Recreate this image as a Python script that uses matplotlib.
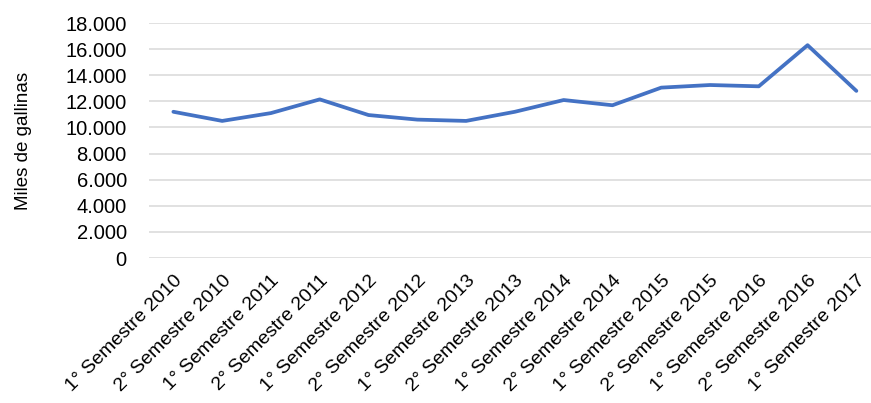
import matplotlib
matplotlib.use("Agg")
import matplotlib.pyplot as plt
from matplotlib.ticker import FuncFormatter, MultipleLocator

plt.rcParams["font.family"] = ["Liberation Sans", "DejaVu Sans"]

periodos = ["1° Semestre 2010", "2° Semestre 2010", "1° Semestre 2011", "2° Semestre 2011",
            "1° Semestre 2012", "2° Semestre 2012", "1° Semestre 2013", "2° Semestre 2013",
            "1° Semestre 2014", "2° Semestre 2014", "1° Semestre 2015", "2° Semestre 2015",
            "1° Semestre 2016", "2° Semestre 2016", "1° Semestre 2017"]
gallinas = [11200, 10500, 11100, 12150, 10950, 10600, 10500, 11200,
            12100, 11700, 13050, 13250, 13150, 16300, 12800]

fig = plt.figure(figsize=(8.71, 4.03), dpi=100)
ax = fig.add_axes([149 / 871, 1 - 258 / 403, 1 - 149 / 871, 235 / 403])

x = range(len(periodos))
ax.plot(x, gallinas, color="#4472C4", lw=2.7, solid_joinstyle="round",
        solid_capstyle="round", zorder=3)

ax.set_ylim(0, 18000)
ax.set_xlim(-0.5, 14.3)
ax.yaxis.set_major_locator(MultipleLocator(2000))
ax.yaxis.set_major_formatter(FuncFormatter(lambda v, p: f"{int(v):,}".replace(",", ".")))
ax.grid(axis="y", color="#D9D9D9", lw=1.1)
ax.set_axisbelow(True)
for s in ax.spines.values():
    s.set_visible(False)
ax.tick_params(axis="both", length=0, colors="black")
ax.tick_params(axis="y", pad=16, labelsize=14.5)

ax.set_xticks(list(x))
ax.set_xticklabels(periodos, rotation=45, ha="right", va="top", rotation_mode="anchor")
ax.tick_params(axis="x", pad=10, labelsize=14)
ax.set_ylabel("Miles de gallinas", fontsize=13.5, labelpad=24)

fig.savefig("out.png", dpi=100)
